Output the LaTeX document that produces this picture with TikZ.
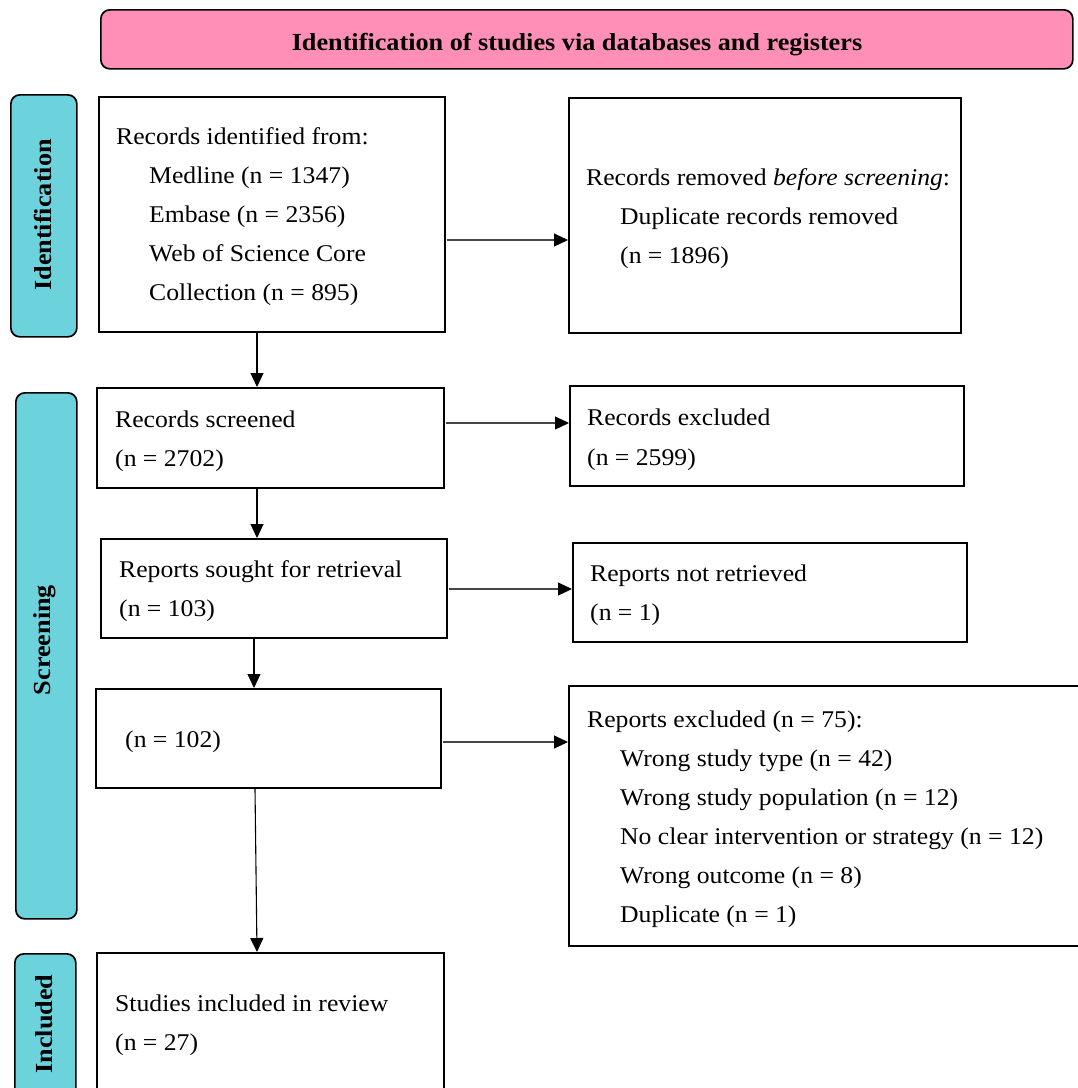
\documentclass[tikz,border=0pt]{standalone}
\usepackage{fontspec}
\setmainfont[FakeStretch=1.07]{Liberation Serif}
\usetikzlibrary{arrows.meta}
\definecolor{pinkhead}{RGB}{255,143,182}
\definecolor{tealside}{RGB}{108,210,220}
\definecolor{arrgray}{RGB}{70,70,70}
\tikzset{
  boxs/.style={draw=black, line width=1.7pt, fill=white, inner sep=0pt, anchor=north west},
  sidelab/.style={draw=black, line width=1.7pt, fill=tealside, rounded corners=9pt, inner sep=0pt, anchor=north west},
  sidetxt/.style={rotate=90, font=\fontsize{24.5}{26}\selectfont\bfseries, inner sep=0pt},
  txt/.style={anchor=base west, inner sep=0pt, font=\fontsize{24}{26}\selectfont},
  arr/.style={draw=black, line width=1.1pt, -{Triangle[length=14pt,width=13pt]}},
  harr/.style={draw=arrgray, line width=1.1pt, -{Triangle[length=14pt,width=13pt,color=black]}, shorten <=1pt}
}
\newcommand\tline[4]{\node[txt] (#1) at (#2,#3) {#4};}
\begin{document}
\begin{tikzpicture}[x=1pt,y=-1pt]
\useasboundingbox (0,0) rectangle (1078,1088);
\clip (0,0) rectangle (1078,1088);
% header
\node[draw=black, line width=1.7pt, fill=pinkhead, rounded corners=9pt, minimum width=972pt, minimum height=59pt, anchor=north west, inner sep=0pt] (head) at (100,9) {};
\node[anchor=base, inner sep=0pt, font=\fontsize{24.5}{26}\selectfont\bfseries] (headt) at (577,50) {Identification of studies via databases and registers};
% side labels
\node[sidelab, minimum width=66pt, minimum height=242pt] (sid) at (10,94) {};
\node[sidetxt] (sidt) at (43,215) {Identification};
\node[sidelab, minimum width=61pt, minimum height=526pt] (sscr) at (15,392) {};
\node[sidetxt] (sscrt) at (45,640) {Screening};
\node[sidelab, minimum width=61pt, minimum height=160pt] (sinc) at (14,953) {};
\node[sidetxt] (sinct) at (44,1024) {Included};
% boxes
\node[boxs, minimum width=346pt, minimum height=235pt] (b1) at (98,96) {};
\node[boxs, minimum width=392pt, minimum height=235pt] (b2) at (568,97) {};
\node[boxs, minimum width=347pt, minimum height=100pt] (b3) at (96,387) {};
\node[boxs, minimum width=394pt, minimum height=100pt] (b3r) at (569,385) {};
\node[boxs, minimum width=346pt, minimum height=99pt] (b4) at (100,538) {};
\node[boxs, minimum width=394pt, minimum height=99pt] (b4r) at (572,542) {};
\node[boxs, minimum width=345pt, minimum height=99pt] (b5) at (95,688) {};
\node[boxs, minimum width=560pt, minimum height=260pt] (b5r) at (568,685) {};
\node[boxs, minimum width=347pt, minimum height=160pt] (b6) at (96,952) {};
% texts
\tline{t1a}{116}{144}{Records identified from:}
\tline{t1b}{149}{183}{Medline (n = 1347)}
\tline{t1c}{149}{222}{Embase (n = 2356)}
\tline{t1d}{149}{261}{Web of Science Core}
\tline{t1e}{149}{300}{Collection (n = 895)}
\tline{t2a}{586}{185}{Records removed \textit{before screening}:}
\tline{t2b}{620}{224}{Duplicate records removed}
\tline{t2c}{620}{263}{(n = 1896)}
\tline{t3a}{115}{427}{Records screened}
\tline{t3b}{115}{466}{(n = 2702)}
\tline{t3ra}{587}{425}{Records excluded}
\tline{t3rb}{587}{465}{(n = 2599)}
\tline{t4a}{119}{577}{Reports sought for retrieval}
\tline{t4b}{119}{616}{(n = 103)}
\tline{t4ra}{590}{581}{Reports not retrieved}
\tline{t4rb}{590}{620}{(n = 1)}
\tline{t5a}{125}{747}{(n = 102)}
\tline{t5ra}{587}{727}{Reports excluded (n = 75):}
\tline{t5rb}{620}{766}{Wrong study type (n = 42)}
\tline{t5rc}{620}{805}{Wrong study population (n = 12)}
\tline{t5rd}{620}{844}{No clear intervention or strategy (n = 12)}
\tline{t5re}{620}{883}{Wrong outcome (n = 8)}
\tline{t5rf}{620}{922}{Duplicate (n = 1)}
\tline{t6a}{115}{1011}{Studies included in review}
\tline{t6b}{115}{1050}{(n = 27)}
% connectors
\draw[harr] (b1.east |- 0,240) -- (b2.west |- 0,240);
\draw[arr] (b1.south -| 257,0) -- (b3.north -| 257,0);
\draw[harr] (b3.east |- 0,423) -- (b3r.west |- 0,423);
\draw[arr] (b3.south -| 257,0) -- (b4.north -| 257,0);
\draw[harr] (b4.east |- 0,589) -- (b4r.west |- 0,589);
\draw[arr] (b4.south -| 254,0) -- (b5.north -| 254,0);
\draw[harr] (b5.east |- 0,742) -- (b5r.west |- 0,742);
\draw[arr] (b5.south -| 255,0) -- (b6.north -| 257,0);
\end{tikzpicture}
\end{document}
